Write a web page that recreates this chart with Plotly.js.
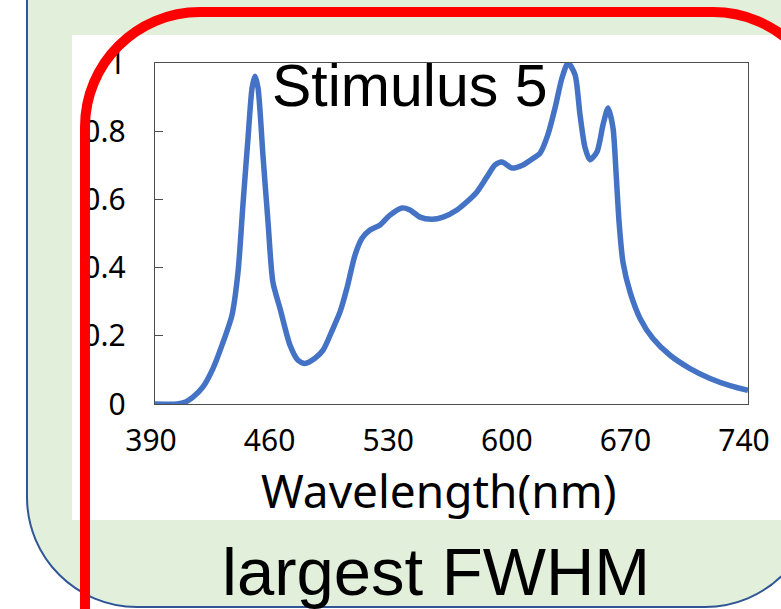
<!DOCTYPE html>
<html>
<head>
<meta charset="utf-8">
<script src="https://cdn.plot.ly/plotly-3.0.1.min.js"></script>
<style>html,body{margin:0;padding:0;background:#fff;}#chart{width:781px;height:609px;}</style>
</head>
<body>
<div id="chart"></div>
<script>
// ---- data ----
const wavelength = [390, 403.0, 408.0, 412.4, 418.3, 424.2, 429.5, 435.4, 439.0, 441.9, 444.9, 447.3, 449.0, 450.8, 453.7, 456.7, 459.6, 463.8, 469.7, 474.4, 478.5, 484.4, 489.2, 495.1, 499.2, 503.3, 508.0, 512.2, 516.9, 522.8, 528.7, 535.8, 540.5, 546.4, 553.5, 560.0, 568.2, 574.1, 580.0, 585.9, 590.7, 594.8, 600.7, 607.2, 613.1, 617.2, 621.9, 626.1, 630.2, 633.8, 637.9, 640.8, 643.8, 646.7, 650.9, 654.4, 657.4, 660.3, 662.1, 663.9, 666.2, 670.4, 676.3, 683.9, 694.0, 705.8, 717.6, 729.4, 740.0];
const intensity = [0, 0, 0.006, 0.02, 0.05, 0.104, 0.172, 0.26, 0.387, 0.584, 0.78, 0.927, 0.961, 0.927, 0.73, 0.534, 0.357, 0.28, 0.172, 0.128, 0.119, 0.134, 0.158, 0.222, 0.27, 0.34, 0.436, 0.486, 0.51, 0.525, 0.554, 0.575, 0.569, 0.548, 0.542, 0.548, 0.569, 0.593, 0.622, 0.666, 0.701, 0.71, 0.692, 0.701, 0.72, 0.735, 0.79, 0.868, 0.956, 1.0, 0.966, 0.85, 0.752, 0.716, 0.74, 0.818, 0.868, 0.81, 0.68, 0.534, 0.416, 0.328, 0.251, 0.192, 0.143, 0.104, 0.075, 0.054, 0.04];
const xTicks = [390, 460, 530, 600, 670, 740];
const yTicks = [0, 0.2, 0.4, 0.6, 0.8, 1];
const chartTitle = 'Stimulus 5';
const xTitle = 'Wavelength(nm)';
const caption = 'largest FWHM';

// ---- layout helpers (pixel -> paper) ----
const W = 781, H = 609;
const PL = 155, PR = 748, PT = 63, PB = 404;
const px = p => (p - PL) / (PR - PL);
const py = p => (PB - p) / (PB - PT);
function roundRect(l, t, r, b, rad) {
  const k = 0.5523 * rad;
  const P = (x, y) => px(x).toFixed(5) + ',' + py(y).toFixed(5);
  return 'M' + P(l + rad, t) +
    ' L' + P(r - rad, t) +
    ' C' + P(r - rad + k, t) + ' ' + P(r, t + rad - k) + ' ' + P(r, t + rad) +
    ' L' + P(r, b - rad) +
    ' C' + P(r, b - rad + k) + ' ' + P(r - rad + k, b) + ' ' + P(r - rad, b) +
    ' L' + P(l + rad, b) +
    ' C' + P(l + rad - k, b) + ' ' + P(l, b - rad + k) + ' ' + P(l, b - rad) +
    ' L' + P(l, t + rad) +
    ' C' + P(l, t + rad - k) + ' ' + P(l + rad - k, t) + ' ' + P(l + rad, t) + ' Z';
}
function rect(l, t, r, b) {
  return {x0: px(l), x1: px(r), y0: py(b), y1: py(t)};
}

const tickFont = {family: 'Noto Sans', size: 30, color: '#000'};

const trace = {
  x: wavelength, y: intensity, type: 'scatter', mode: 'lines',
  line: {color: '#4472C4', width: 5.5, shape: 'spline', smoothing: 0.7},
  hoverinfo: 'skip'
};

const layout = {
  width: W, height: H,
  margin: {l: PL, r: W - PR, t: PT, b: H - PB, pad: 0},
  paper_bgcolor: '#ffffff', plot_bgcolor: '#ffffff',
  showlegend: false,
  xaxis: {
    range: [390, 740], tickvals: xTicks, ticks: '', showgrid: false, zeroline: false,
    showline: true, mirror: true, linecolor: '#4d4d4d', linewidth: 1.3,
    tickfont: tickFont, ticklabelstandoff: 10, ticklabelshift: -4
  },
  yaxis: {
    range: [0, 1], tickvals: yTicks, ticks: 'inside', ticklen: 8, tickcolor: '#4d4d4d', tickwidth: 1,
    showgrid: false, zeroline: false,
    showline: true, mirror: true, linecolor: '#4d4d4d', linewidth: 1.3,
    tickfont: tickFont, ticklabelstandoff: 22
  },
  shapes: [
    Object.assign({type: 'path', xref: 'paper', yref: 'paper', layer: 'below',
      path: roundRect(27, -200, 815, 607, 110),
      fillcolor: '#E2EFDA', line: {color: '#2F5597', width: 2}}),
    Object.assign({type: 'rect', xref: 'paper', yref: 'paper', layer: 'below',
      fillcolor: '#ffffff', line: {width: 0}}, rect(72, 35, 820, 520)),
    Object.assign({type: 'path', xref: 'paper', yref: 'paper', layer: 'above',
      path: roundRect(85, 12, 828, 760, 115),
      fillcolor: 'rgba(0,0,0,0)', line: {color: '#FF0000', width: 10}})
  ],
  annotations: [
    {text: chartTitle, xref: 'paper', yref: 'paper', x: px(270), y: py(86),
     xanchor: 'left', yanchor: 'middle', showarrow: false,
     font: {family: 'Liberation Sans, Arial, sans-serif', size: 59, color: '#000'}},
    {text: xTitle, xref: 'paper', yref: 'paper', x: px(439), y: py(490),
     xanchor: 'center', yanchor: 'middle', showarrow: false,
     font: {family: 'Noto Sans', size: 46, color: '#000'}},
    {text: caption, xref: 'paper', yref: 'paper', x: px(436), y: py(571),
     xanchor: 'center', yanchor: 'middle', showarrow: false,
     font: {family: 'Liberation Sans, Arial, sans-serif', size: 67, color: '#000'}}
  ]
};

Plotly.newPlot('chart', [trace], layout, {staticPlot: true, displayModeBar: false});
</script>
</body>
</html>
